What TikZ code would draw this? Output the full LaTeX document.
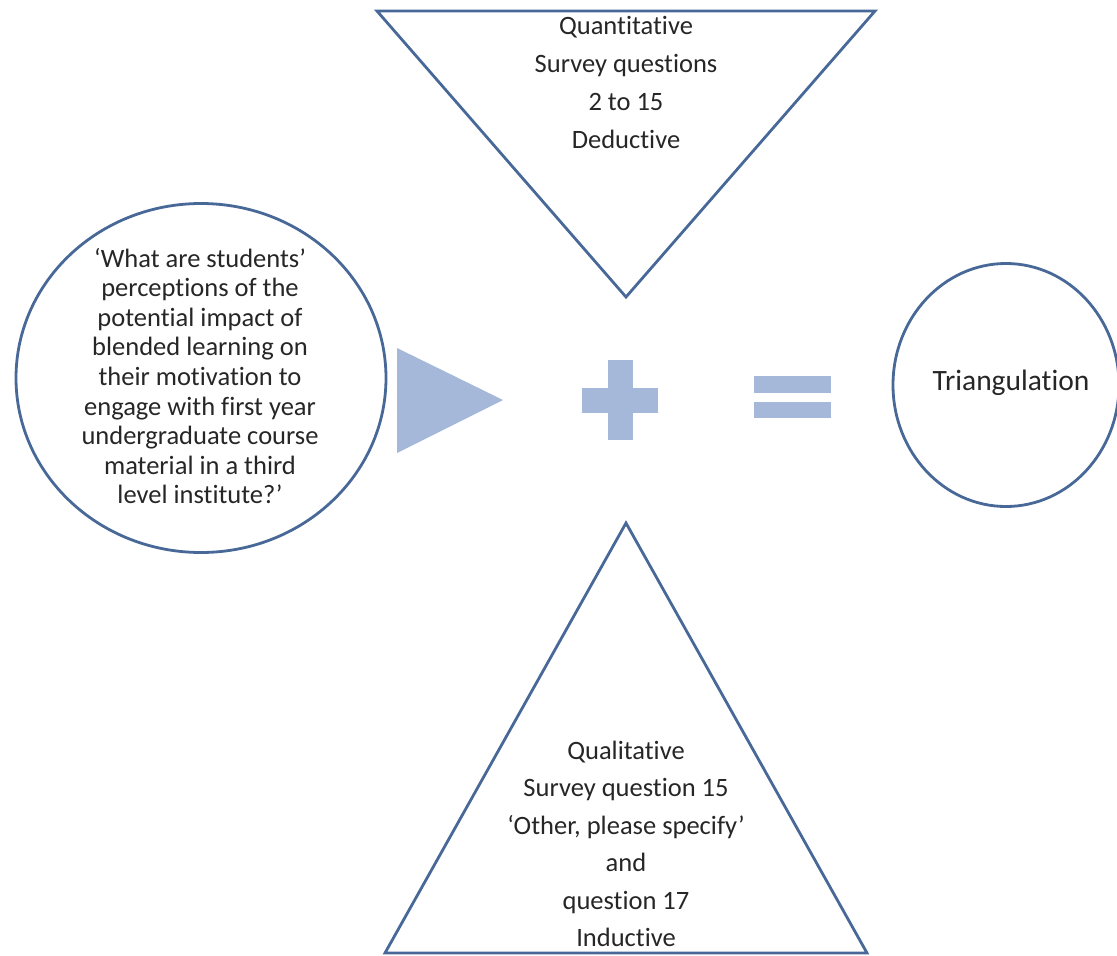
\documentclass[tikz,border=0pt]{standalone}
\usepackage{fontspec}
\setmainfont{Carlito}[Ligatures=NoCommon]
\usetikzlibrary{shapes}

\definecolor{edgeblue}{RGB}{72,105,152}
\definecolor{markblue}{RGB}{166,184,218}

\begin{document}
\begin{tikzpicture}[x=1pt, y=-1pt]

  \tikzstyle{outline}=[draw=edgeblue, line width=2.8pt, line join=miter]
  \tikzstyle{signfill}=[fill=markblue, draw=none]
  \tikzstyle{label}=[align=center, text=black!85, inner sep=0pt,
    font=\fontsize{26.5}{38}\selectfont]

  \useasboundingbox (0,0) rectangle (1117,956);

  % the two triangles
  \draw [outline] (377,11) -- (875,11) -- (626,297) -- cycle;
  \draw [outline] (626,523) -- (867,953) -- (385,953) -- cycle;

  \node [label] (quant) at (626,82) {Quantitative\\Survey questions\\2 to 15\\Deductive};
  \node [label, font=\fontsize{26.5}{37.5}\selectfont] (qual) at (626,844) {Qualitative\\Survey question 15\\`Other, please specify'\\and\\question 17\\Inductive};

  % question and result
  \node [ellipse, outline, minimum width=370pt, minimum height=349pt] (question) at (201,378) {};
  \node [label, font=\fontsize{26.5}{29.6}\selectfont] (qtext) at (200,376)
{`What are students'\\
perceptions of the\\
potential impact of\\
blended learning on\\
their motivation to\\
engage with first year\\
undergraduate course\\
material in a third\\
level institute?'};

  \node [ellipse, outline, minimum width=226pt, minimum height=243pt] (result) at (1006,385) {};
  \node [label, font=\fontsize{29.5}{34}\selectfont] (rtext) at (1011,383) {Triangulation};

  % signs
  \fill [signfill] (397,348) -- (503,400) -- (397,453) -- cycle;
  \fill [signfill] (582,388) rectangle (658,413);
  \fill [signfill] (608,360) rectangle (633,440);
  \fill [signfill] (754,376) rectangle (831,393);
  \fill [signfill] (754,402) rectangle (831,418);

\end{tikzpicture}
\end{document}
